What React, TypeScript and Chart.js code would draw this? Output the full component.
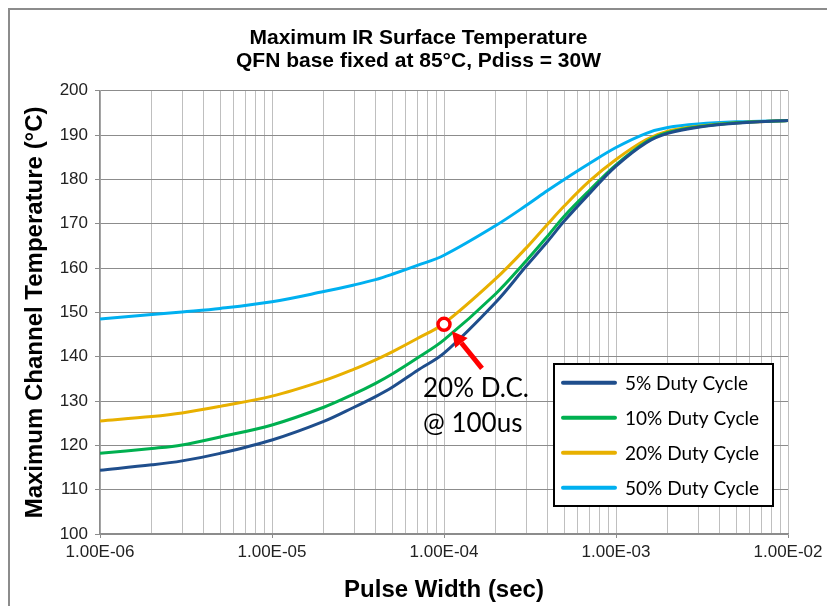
import React, { useEffect, useRef } from "react";
import { Chart, registerables } from "chart.js";

Chart.register(...registerables);

// ---- Data ----
const pulseWidths = [1e-6, 2e-6, 3e-6, 5e-6, 1e-5, 2e-5, 3e-5, 4e-5, 5e-5, 7e-5, 1e-4, 2e-4, 3e-4, 4e-4, 5e-4, 7e-4, 1e-3, 1.5e-3, 2e-3, 3e-3, 5e-3, 1e-2];
const dc5 = [114.4, 115.6, 116.5, 118.2, 121.2, 125.4, 128.6, 131.0, 133.1, 136.9, 140.8, 152.3, 160.4, 166.0, 170.6, 176.8, 183.0, 188.3, 190.4, 191.8, 192.7, 193.3];
const dc10 = [118.2, 119.3, 120.1, 121.9, 124.6, 128.6, 131.6, 134.0, 136.1, 139.7, 143.8, 154.2, 161.6, 167.2, 171.7, 177.5, 183.3, 188.5, 190.6, 191.9, 192.8, 193.3];
const dc20 = [125.5, 126.5, 127.3, 128.8, 131.1, 134.6, 137.2, 139.3, 141.1, 144.1, 147.5, 157.6, 164.5, 169.9, 174.0, 179.6, 184.5, 189.0, 190.9, 192.0, 192.8, 193.3];
const dc50 = [148.5, 149.5, 150.1, 150.9, 152.4, 154.7, 156.2, 157.4, 158.6, 160.6, 162.9, 169.6, 174.1, 177.5, 180.0, 183.6, 187.2, 190.4, 191.7, 192.5, 193.0, 193.3];

const seriesLabels = ["5% Duty Cycle", "10% Duty Cycle", "20% Duty Cycle", "50% Duty Cycle"];
const seriesColors = ["#1F4E8C", "#00B050", "#E8B000", "#00B0F0"];
const seriesValues = [dc5, dc10, dc20, dc50];

const titleLines = ["Maximum IR Surface Temperature", "QFN base fixed at 85°C, Pdiss = 30W"];
const xTitle = "Pulse Width (sec)";
const yTitle = "Maximum Channel Temperature (°C)";

const xDecades = [-6, -5, -4, -3];
const xMultipliers = [1, 2, 3, 4, 5, 6, 7, 8, 9];
const xMin = 1e-6;
const xMax = 1e-2;
const yMin = 100;
const yMax = 200;
const yStep = 10;

const markerX = 1e-4;
const markerY = 147.3;
const markerText = ["20% D.C.", "@ 100us"];

const FONT = "'Liberation Sans', Arial, sans-serif";
const LFONT = "Lato, 'Open Sans', sans-serif";

function fmtExp(v: number): string {
  const e = Math.round(Math.log10(v));
  const m = v / Math.pow(10, e);
  const sign = e < 0 ? "-" : "+";
  const ae = Math.abs(e);
  return m.toFixed(2) + "E" + sign + (ae < 10 ? "0" + ae : String(ae));
}

function isDecade(v: number): boolean {
  const l = Math.log10(v);
  return Math.abs(l - Math.round(l)) < 1e-9;
}

const xTickValues: number[] = [];
xDecades.forEach((e) => {
  xMultipliers.forEach((m) => {
    xTickValues.push(Number((m * Math.pow(10, e)).toPrecision(3)));
  });
});
xTickValues.push(xMax);

const overlayPlugin = {
  id: "overlay",
  afterDraw(chart: any) {
    const { ctx, chartArea, scales } = chart;
    const xs = scales.x;
    const ys = scales.y;

    // ---- annotation ----
    const px = xs.getPixelForValue(markerX);
    const py = ys.getPixelForValue(markerY);
    ctx.save();
    ctx.strokeStyle = "#FF0000";
    ctx.fillStyle = "#FF0000";
    const tailX = px + 38;
    const tailY = py + 44;
    const tipX = px + 8;
    const tipY = py + 7;
    const ang = Math.atan2(tipY - tailY, tipX - tailX);
    const headLen = 15;
    const headW = 8;
    const baseX = tipX - headLen * Math.cos(ang);
    const baseY = tipY - headLen * Math.sin(ang);
    ctx.lineWidth = 5;
    ctx.beginPath();
    ctx.moveTo(tailX, tailY);
    ctx.lineTo(baseX, baseY);
    ctx.stroke();
    ctx.beginPath();
    ctx.moveTo(tipX, tipY);
    ctx.lineTo(baseX + headW * Math.sin(ang), baseY - headW * Math.cos(ang));
    ctx.lineTo(baseX - headW * Math.sin(ang), baseY + headW * Math.cos(ang));
    ctx.closePath();
    ctx.fill();
    ctx.beginPath();
    ctx.arc(px, py, 6, 0, Math.PI * 2);
    ctx.fillStyle = "#FFFFFF";
    ctx.fill();
    ctx.lineWidth = 3.5;
    ctx.stroke();

    ctx.fillStyle = "#000000";
    ctx.font = "26px " + LFONT;
    ctx.textAlign = "left";
    ctx.textBaseline = "alphabetic";
    ctx.fillText(markerText[0], px - 21, py + 73);
    ctx.fillText(markerText[1], px - 21, py + 108);
    ctx.restore();

    // ---- legend box ----
    const bw = 219;
    const bh = 142;
    const bx = chartArea.right - 15 - bw;
    const by = chartArea.bottom - 28 - bh;
    ctx.save();
    ctx.fillStyle = "#FFFFFF";
    ctx.fillRect(bx, by, bw, bh);
    ctx.strokeStyle = "#000000";
    ctx.lineWidth = 2;
    ctx.strokeRect(bx, by, bw, bh);
    ctx.font = "19px " + LFONT;
    ctx.textBaseline = "middle";
    ctx.textAlign = "left";
    chart.data.datasets.forEach((ds: any, i: number) => {
      const ry = by + 18.7 + i * 35;
      ctx.strokeStyle = ds.borderColor;
      ctx.lineWidth = 4;
      ctx.lineCap = "round";
      ctx.beginPath();
      ctx.moveTo(bx + 9, ry);
      ctx.lineTo(bx + 61, ry);
      ctx.stroke();
      ctx.fillStyle = "#000000";
      ctx.fillText(ds.label, bx + 71, ry + 1);
    });
    ctx.restore();
  },
};

export default function App() {
  const ref = useRef<HTMLCanvasElement | null>(null);

  useEffect(() => {
    if (!ref.current) return;
    const datasets = seriesValues.map((vals, i) => ({
      label: seriesLabels[i],
      data: pulseWidths.map((x, j) => ({ x, y: vals[j] })),
      borderColor: seriesColors[i],
      backgroundColor: seriesColors[i],
      borderWidth: 3,
      pointRadius: 0,
      fill: false,
      tension: 0.35,
    }));

    const chart = new Chart(ref.current, {
      type: "line",
      data: { datasets },
      plugins: [overlayPlugin],
      options: {
        animation: false,
        responsive: false,
        layout: { padding: { left: 0, right: 0, top: 0, bottom: 0 } },
        plugins: {
          legend: { display: false },
          tooltip: { enabled: false },
          title: {
            display: true,
            text: titleLines,
            color: "#000000",
            font: { family: FONT, size: 21, weight: "bold", lineHeight: 1.1 },
            padding: { top: 16.5, bottom: 18.1 },
          },
        },
        scales: {
          x: {
            type: "logarithmic",
            min: xMin,
            max: xMax,
            afterBuildTicks: (scale: any) => {
              scale.ticks = xTickValues.map((v) => ({ value: v, major: isDecade(v) }));
            },
            afterFit: (scale: any) => {
              scale.height = 76;
              scale.paddingRight = 39;
            },
            ticks: {
              autoSkip: false,
              maxRotation: 0,
              padding: 4,
              color: "#222222",
              font: { family: FONT, size: 17 },
              callback: (v: any) => (isDecade(Number(v)) ? fmtExp(Number(v)) : ""),
            },
            grid: {
              color: "#BFBFBF",
              lineWidth: 1,
              tickLength: 4,
              tickColor: (c: any) => (c.tick && isDecade(c.tick.value) ? "#8C8C8C" : "rgba(0,0,0,0)"),
            },
            border: { color: "#8C8C8C", width: 1.5 },
            title: {
              display: true,
              text: xTitle,
              color: "#000000",
              font: { family: FONT, size: 24, weight: "bold", lineHeight: 1.2 },
              padding: { top: 0, bottom: 5 },
            },
          },
          y: {
            type: "linear",
            min: yMin,
            max: yMax,
            afterFit: (scale: any) => {
              scale.width = 90;
            },
            ticks: {
              stepSize: yStep,
              padding: 7,
              color: "#222222",
              font: { family: FONT, size: 17 },
            },
            grid: {
              color: "#8C8C8C",
              lineWidth: 1,
              tickLength: 5,
            },
            border: { color: "#8C8C8C", width: 1.5 },
            title: {
              display: true,
              text: yTitle,
              color: "#000000",
              font: { family: FONT, size: 24, weight: "bold", lineHeight: 1.2 },
              padding: { top: 11, bottom: 0 },
            },
          },
        },
      },
    });
    return () => chart.destroy();
  }, []);

  return (
    <div style={{ width: 817, height: 600, border: "2px solid #8C8C8C", background: "#FFFFFF" }}>
      <canvas ref={ref} width={817} height={600} style={{ display: "block" }} />
    </div>
  );
}
